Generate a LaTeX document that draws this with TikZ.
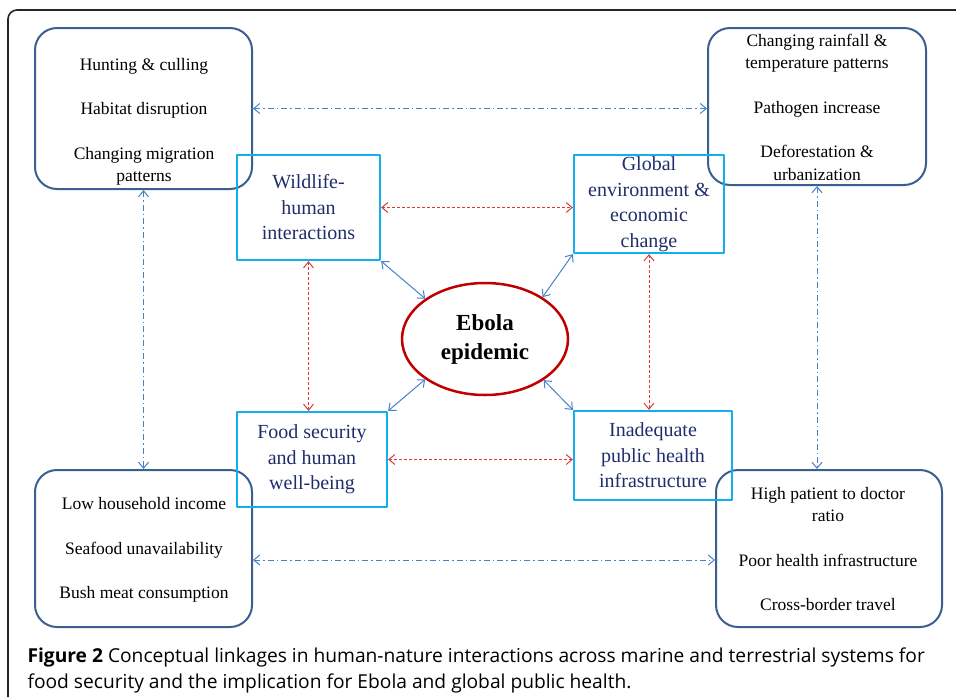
\documentclass[tikz,border=0pt]{standalone}
\usepackage{fontspec}
\setmainfont{Liberation Serif}
\newfontfamily\capfont{Open Sans}
\usetikzlibrary{arrows.meta,shapes.geometric}
\definecolor{boxblue}{HTML}{3A5F91}
\definecolor{linkcyan}{HTML}{10B0EE}
\definecolor{linknavy}{HTML}{1F2D6B}
\definecolor{epired}{HTML}{C00000}
\definecolor{arrblue}{HTML}{4A80C8}
\definecolor{arrred}{HTML}{E03A34}
\definecolor{framegray}{HTML}{262626}
\begin{document}
\begin{tikzpicture}[x=1pt, y=-1pt, line join=round, >={Straight Barb[length=6pt,width=10pt]},
 grpbox/.style={draw=boxblue, line width=2pt, rounded corners=22pt},
 grptext/.style={align=center, font=\fontsize{17.5}{22.5}\selectfont},
 linkbox/.style={draw=linkcyan, line width=2.2pt, inner sep=0pt, align=center, text=linknavy, font=\fontsize{20}{25.5}\selectfont},
 dotlink/.style={arrblue, line width=1pt, dash pattern=on 6pt off 3pt on 1.5pt off 3pt},
 redlink/.style={arrred, line width=1pt, dash pattern=on 3pt off 2pt},
 hublink/.style={arrblue, line width=1pt}]
 \useasboundingbox (0,0) rectangle (956,697);
 \draw[framegray, line width=1.6pt, rounded corners=9pt] (8,697) |- (956,10);
 \node[grpbox, minimum width=217pt, minimum height=161pt] (tl) at (143.5,108.5) {};
 \node[grpbox, minimum width=218pt, minimum height=157pt] (tr) at (817,106.5) {};
 \node[grpbox, minimum width=217pt, minimum height=157pt] (bl) at (143.5,548.5) {};
 \node[grpbox, minimum width=226pt, minimum height=157pt] (br) at (829,548.5) {};
 \node[grptext] (tltext) at (144,122) {Hunting \& culling\\[22pt]Habitat disruption\\[22pt]Changing migration\\patterns};
 \node[grptext] (trtext) at (817,107) {Changing rainfall \&\\temperature patterns\\[22pt]Pathogen increase\\[22pt]Deforestation \&\\urbanization};
 \node[grptext] (bltext) at (144,550) {Low household income\\[22pt]Seafood unavailability\\[22pt]Bush meat consumption};
 \node[grptext] (brtext) at (828,549) {High patient to doctor\\ratio\\[22pt]Poor health infrastructure\\[22pt]Cross-border travel};
 \node[linkbox, minimum width=143pt, minimum height=105pt] (wh) at (308.5,207.5) {Wildlife-\\human\\interactions};
 \node[linkbox, minimum width=150pt, minimum height=98pt] (ge) at (649,204) {Global\\environment \&\\economic\\change};
 \node[linkbox, minimum width=150pt, minimum height=95pt] (fs) at (312,459.5) {Food security\\and human\\well-being};
 \node[linkbox, minimum width=158pt, minimum height=89pt] (ip) at (653,455.5) {Inadequate\\public health\\infrastructure};
 \node[ellipse, draw=epired, line width=2.5pt, minimum width=166pt, minimum height=112pt, inner sep=0pt, align=center, font=\bfseries\fontsize{23}{29}\selectfont] (ebola) at (485,339) {Ebola\\epidemic};
 \draw[dotlink, <->] (tl.east) -- (tl.east -| tr.west);
 \draw[dotlink, <->] ([yshift=-11.5pt]bl.east) -- ([yshift=-11.5pt]bl.east -| br.west);
 \draw[dotlink, <->] (tl.south) -- (bl.north);
 \draw[dotlink, <->] (tr.south) -- (tr.south |- br.north);
 \draw[redlink, <->] (wh.east) -- (wh.east -| ge.west);
 \draw[redlink, <->] (fs.east) -- (fs.east -| ip.west);
 \draw[redlink, <->] (wh.south) -- (wh.south |- fs.north);
 \draw[redlink, <->] (ge.south) -- (ge.south |- ip.north);
 \draw[hublink, <->] (wh.south east) -- (ebola.146);
 \draw[hublink, <->] (ge.south west) -- (ebola.36);
 \draw[hublink, <->] (fs.north east) -- (ebola.214);
 \draw[hublink, <->] (ip.north west) -- (ebola.325);
 \node[anchor=base west, align=left, font=\capfont\fontsize{19.2}{26}\selectfont] (caption) at (24,688) {\textbf{Figure 2} Conceptual linkages in human-nature interactions across marine and terrestrial systems for\\food security and the implication for Ebola and global public health.};
\end{tikzpicture}
\end{document}
